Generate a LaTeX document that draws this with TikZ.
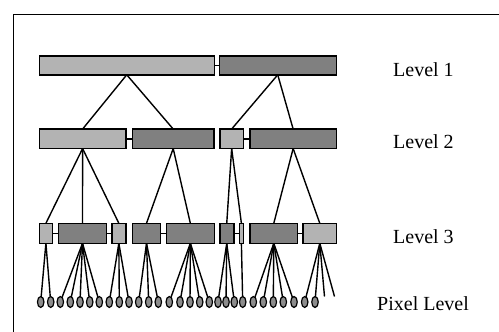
\documentclass[tikz,border=0pt]{standalone}
\usepackage{fontspec}
\setmainfont{Liberation Serif}
\usetikzlibrary{shapes.geometric}
\begin{document}
\begin{tikzpicture}[x=1pt,y=-1pt,
  bar/.style={draw=black,line width=1.5pt,inner sep=0pt,outer sep=0pt},
  lt/.style={bar,fill=light},
  dk/.style={bar,fill=dark},
  px/.style={draw=black,line width=1.2pt,ellipse,fill=pxgray,inner sep=0pt,outer sep=0pt,minimum width=6.5pt,minimum height=11pt},
  link/.style={line width=1.4pt},
  lab/.style={font=\fontsize{20}{24}\selectfont,anchor=base west,inner sep=0pt}]
\definecolor{light}{HTML}{B3B3B3}
\definecolor{dark}{HTML}{808080}
\definecolor{pxgray}{HTML}{8C8C8C}
\useasboundingbox (0,0) rectangle (499,332);
% frame
\draw[line width=1.6pt] (13.5,340) -- (13.5,14.5) -- (510,14.5);
% helper macro for a bar: #1 style, #2 name, #3 x0, #4 x1, #5 yc, #6 h
\newcommand\mybar[6]{\node[#1,minimum width={#4-#3-1.5},minimum height={#6}] (#2) at ({(#3+#4)/2},#5) {};}
% Level 1
\mybar{lt}{L1a}{38.5}{215}{65.3}{19}
\mybar{dk}{L1b}{218.5}{337}{65.3}{19}
% Level 2
\mybar{lt}{L2a}{38.5}{126.7}{138.8}{19.5}
\mybar{dk}{L2b}{131.7}{214.7}{138.8}{19.5}
\mybar{lt}{L2c}{219}{244.3}{138.8}{19.5}
\mybar{dk}{L2d}{249.3}{337}{138.8}{19.5}
% Level 3
\mybar{lt}{L3a}{38.5}{53.3}{233.3}{20}
\mybar{dk}{L3b}{57.7}{107.3}{233.3}{20}
\mybar{lt}{L3c}{111}{126.7}{233.3}{20}
\mybar{dk}{L3d}{131.7}{161.3}{233.3}{20}
\mybar{dk}{L3e}{165.7}{215}{233.3}{20}
\mybar{dk}{L3f}{219}{234.5}{233.3}{20}
\mybar{lt}{L3g}{238.5}{244.3}{233.3}{20}
\mybar{dk}{L3h}{249.3}{298.3}{233.3}{20}
\mybar{lt}{L3i}{302.3}{337.3}{233.3}{20}
% bar joints
\foreach \p/\q in {L1a/L1b,L2a/L2b,L2c/L2d,L3a/L3b,L3b/L3c,L3d/L3e,L3f/L3g,L3h/L3i}
  \draw[link] (\p.east) -- (\q.west);
% tree links
\foreach \p/\q in {L1a/L2a,L1a/L2b,L1b/L2c,L1b/L2d,
  L2a/L3a,L2a/L3b,L2a/L3c,L2b/L3d,L2b/L3e,L2c/L3f,L2c/L3g,L2d/L3h,L2d/L3i}
  \draw[link] (\p.south) -- (\q.north);
% pixels
\foreach \x/\pp [count=\i] in {40.7/L3a,50.7/L3a,
  60.3/L3b,70.3/L3b,80/L3b,89.7/L3b,99.3/L3b,
  109.3/L3c,119.3/L3c,129/L3c,
  138.7/L3d,148.7/L3d,158.3/L3d,
  169.3/L3e,180/L3e,190/L3e,199.7/L3e,209.3/L3e,
  218/L3f,226/L3f,234.3/L3f,
  242.7/L3g,
  253.3/L3h,263.3/L3h,273.3/L3h,283.3/L3h,294/L3h,
  304.7/L3i,315/L3i}{
  \draw[link] (\pp.south) -- (\x,302);
  \node[px] (p\i) at (\x,302) {};
}
\coordinate (e1) at (324.5,296.5);
\coordinate (e2) at (334.5,296.5);
\draw[link] (L3i.south) -- (e1);
\draw[link] (L3i.south) -- (e2);
% labels
\node[lab] (t1) at (393,76) {Level 1};
\node[lab] (t2) at (393,148) {Level 2};
\node[lab] (t3) at (393,243) {Level 3};
\node[lab] (t4) at (377,310) {Pixel Level};
\end{tikzpicture}
\end{document}
